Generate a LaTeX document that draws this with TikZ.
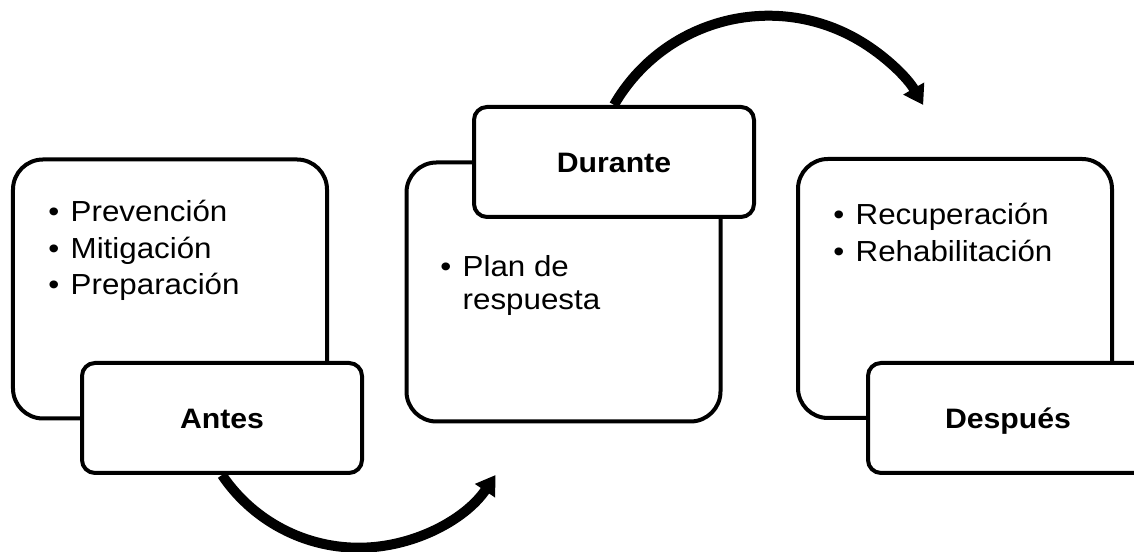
\documentclass[tikz,border=0pt]{standalone}
\usepackage{fontspec}
\setmainfont{Liberation Sans}[UprightFeatures={FakeStretch=1.08}, BoldFeatures={FakeStretch=1.075}]
\usetikzlibrary{arrows.meta}

\tikzset{
  listbox/.style={draw, line width=0.08cm, rounded corners=0.6cm, minimum width=6.28cm, minimum height=5.18cm},
  labelbox/.style={draw, fill=white, line width=0.08cm, rounded corners=0.26cm, minimum width=5.6cm, minimum height=2.2cm,
    font=\fontsize{16}{19}\selectfont\bfseries, text height=11.5pt, text depth=0pt},
  itemtext/.style={anchor=base west, inner sep=0pt, font=\fontsize{16.5}{20.5}\selectfont},
  cyclearrow/.style={line width=0.2cm, -{Triangle[length=0.38cm,width=0.46cm]}}
}
\newcommand{\bulletlist}[1]{\begin{tabular}[t]{@{}l@{\hspace{6.5pt}}l@{}}#1\end{tabular}}

\begin{document}
\begin{tikzpicture}
            \useasboundingbox (0,0) rectangle (22.68,11.04);
            % list boxes
            \node[listbox] (antesbox) at (3.4,5.26) {};
            \node[listbox] (durantebox) at (11.27,5.2) {};
            \node[listbox] (despuesbox) at (19.1,5.27) {};
            \node[itemtext] (antesitems) at (0.96,6.6) {\bulletlist{• & Prevención\\ • & Mitigación\\ • & Preparación}};
            \node[itemtext, font=\fontsize{16.5}{18.7}\selectfont] (duranteitems) at (8.8,5.5) {\bulletlist{• & Plan de\\ & respuesta}};
            \node[itemtext] (despuesitems) at (16.66,6.54) {\bulletlist{• & Recuperación\\ • & Rehabilitación}};
            % phase labels
            \node[labelbox] (antes) at (4.44,2.68) {Antes};
            \node[labelbox] (durante) at (12.28,7.8) {Durante};
            \node[labelbox] (despues) at (20.16,2.68) {Después};
            % arrows
            \draw[cyclearrow] (antes.south) arc[start angle=214, end angle=326, radius=3.3cm];
            \draw[cyclearrow] (durante.north) arc[start angle=150, end angle=30, radius=3.57cm];
        \end{tikzpicture}
\end{document}
